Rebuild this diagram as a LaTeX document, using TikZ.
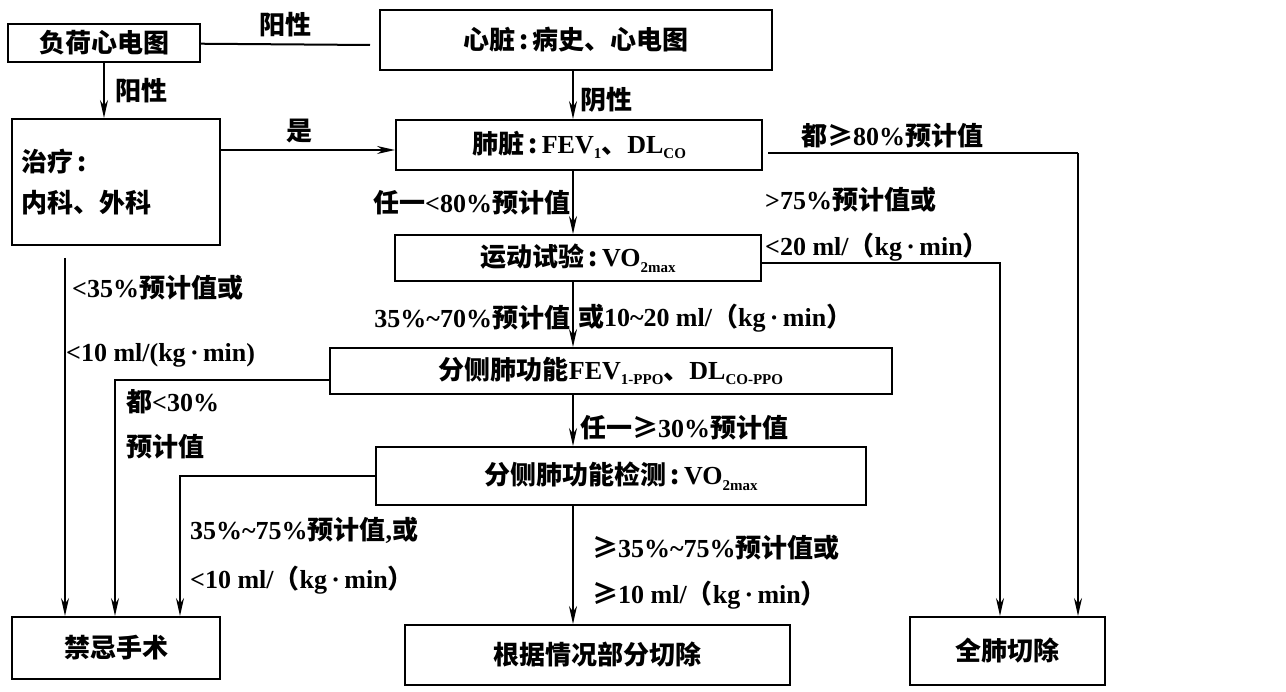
\documentclass[tikz,border=0pt]{standalone}
\usepackage{fontspec}
\setmainfont{Noto Sans CJK SC}
\newfontfamily\lat{Liberation Serif}
\usetikzlibrary{arrows.meta}
\tikzset{
    normal/.style={draw, line width=2pt},
    b/.style={style=normal, rectangle, inner sep=0pt, font=\fontsize{26}{31}\selectfont\bfseries},
    t/.style={inner sep=0pt, font=\fontsize{26}{31}\selectfont\bfseries}, % labels
    e/.style={style=normal, -{Stealth[length=18pt,width=8pt]}},
    ln/.style={style=normal}
}
\newcommand{\ml}[1]{{\lat\bfseries #1}}
\newcommand{\sbs}[1]{\raisebox{-0.4ex}{\fontsize{15}{15}\selectfont\lat\bfseries #1}}
\begin{document}
\begin{tikzpicture}[x=1pt, y=-1pt]
        \useasboundingbox (0,0) rectangle (1286,692);
        \node[b, minimum width=192pt, minimum height=38pt] (ECG) at (104,43) {负荷心电图};
        \node[b, minimum width=392pt, minimum height=60pt] (H) at (576,40) {心脏\,:\,病史、心电图};
        \node[b, minimum width=208pt, minimum height=126pt, align=left, text width=190pt] (T) at (116,182)
        {治疗\,:\\[10pt]内科、外科};
        \node[b, minimum width=366pt, minimum height=50pt] (L) at (579,145)
        {肺脏\,:\,\ml{FEV}\sbs{1}、\ml{DL}\sbs{CO}};
        \node[b, minimum width=366pt, minimum height=46pt] (X) at (578,258)
        {运动试验\,:\,\ml{VO}\sbs{2max}};
        \node[b, minimum width=562pt, minimum height=46pt] (F) at (611,371)
        {分侧肺功能\ml{FEV}\sbs{1-PPO}、\ml{DL}\sbs{CO-PPO}};
        \node[b, minimum width=490pt, minimum height=58pt] (V) at (621,476)
        {分侧肺功能检测\,:\,\ml{VO}\sbs{2max}};
        \node[b, minimum width=208pt, minimum height=62pt] (N) at (116,648) {禁忌手术};
        \node[b, minimum width=385pt, minimum height=60pt] (P) at (597,655) {根据情况部分切除};
        \node[b, minimum width=195pt, minimum height=68pt] (W) at (1007,651) {全肺切除};
        \coordinate (C1) at (370,45);
        \coordinate (C2) at (768,153);
        \coordinate (C3) at (65,258);

        % connectors
        \draw[ln] (ECG) -- (C1) node[t, pos=.5, above=6pt] {阳性};
        \draw[e] (ECG.south) -- (T.north -| ECG.south) node[t, pos=.5, right=10pt] {阳性};
        \draw[e] (T.east |- 0,150) -- (L.west |- 0,150) node[t, pos=.45, above=6pt] {是};
        \draw[e] (H.south -| 573,0) -- (L.north -| 573,0) node[t, pos=.6, right=6pt] {阴性};
        \draw[e] (L.south -| 573,0) -- (X.north -| 573,0) node[t, pos=.5, left=2pt] {任一\ml{<80\%}预计值};
        \draw[e] (X.south -| 573,0) -- (F.north -| 573,0) node[t, pos=.55, left=2pt] {\ml{35\%\textasciitilde70\%}预计值}
        node[t, pos=.55, right=4pt] {或\ml{10\textasciitilde20 ml/}（\ml{kg\,·\,min}）};
        \draw[e] (F.south -| 573,0) -- (V.north -| 573,0) node[t, pos=.65, right=6pt] {任一≥\ml{30\%}预计值};
        \draw[e] (V.south -| 573,0) -- (P.north -| 573,0);
        \draw[ln] (C2) -- (1078,153) node[t, pos=.4, above=4pt] {都≥\ml{80\%}预计值};
        \draw[e] (1078,153) -- (W.north -| 1078,0);
        \draw[e] (X.east |- 0,263) -- (1000,263) -- (W.north -| 1000,0);
        \draw[e] (C3) -- (N.north -| C3);
        \draw[e] (F.west |- 0,380) -- (115,380) -- (N.north -| 115,0);
        \draw[e] (V.west |- 0,476) -- (180,476) -- (N.north -| 180,0);

        % labels
        \node[t, anchor=west] (A1) at (72,288) {\ml{<35\%}预计值或};
        \node[t, anchor=west] (A2) at (66,355) {\ml{<10 ml/(kg\,·\,min)}};
        \node[t, anchor=west] (A3) at (126,402) {都\ml{<30\%}};
        \node[t, anchor=west] (A4) at (126,447) {预计值};
        \node[t, anchor=west] (A5) at (190,530) {\ml{35\%\textasciitilde75\%}预计值\ml{,}或};
        \node[t, anchor=west] (A6) at (190,580) {\ml{<10 ml/}（\ml{kg\,·\,min}）};
        \node[t, anchor=west] (A7) at (592,548) {≥\ml{35\%\textasciitilde75\%}预计值或};
        \node[t, anchor=west] (A8) at (592,595) {≥\ml{10 ml/}（\ml{kg\,·\,min}）};
        \node[t, anchor=west] (A9) at (765,200) {\ml{>75\%}预计值或};
        \node[t, anchor=west] (A10) at (765,247) {\ml{<20 ml/}（\ml{kg\,·\,min}）};
\end{tikzpicture}
\end{document}
